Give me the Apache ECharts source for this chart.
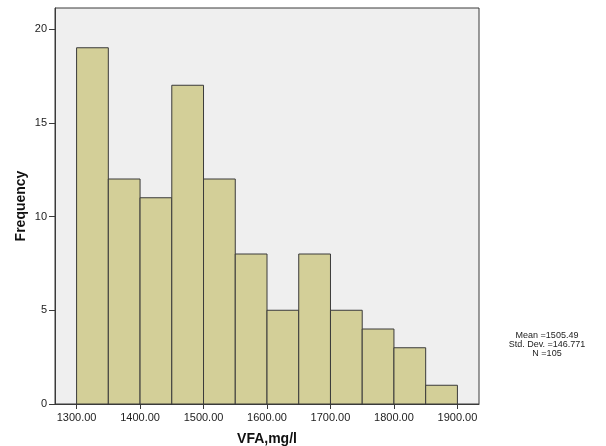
<!DOCTYPE html>
<html><head><meta charset="utf-8">
<script src="https://cdn.jsdelivr.net/npm/echarts@6/dist/echarts.min.js"></script>
<style>html,body{margin:0;padding:0;background:#fff}#c{width:606px;height:446px}</style>
</head><body><div id="c"></div>
<script>
const binStarts = [1300,1350,1400,1450,1500,1550,1600,1650,1700,1750,1800,1850];
const binWidth = 50;
const frequencies = [19,12,11,17,12,8,5,8,5,4,3,1];
const xTicks = [1300,1400,1500,1600,1700,1800,1900];
const yTicks = [0,5,10,15,20];
const statsLines = ['Mean =1505.49','Std. Dev. =146.771','N =105'];

const data = binStarts.map((s,i)=>[s, s+binWidth, frequencies[i]]);
const chart = echarts.init(document.getElementById('c'), null, {renderer:'canvas'});
const font = 'Liberation Sans, Arial, sans-serif';
chart.setOption({
  animation:false,
  backgroundColor:'#ffffff',
  grid:{left:55,top:8,right:127,bottom:42,containLabel:false,outerBoundsMode:'none',show:true,backgroundColor:'#efefef',borderColor:'#3a3a3a',borderWidth:1},
  xAxis:{type:'value',min:1266,max:1934,
    axisLine:{show:true,lineStyle:{color:'#3a3a3a'}},
    axisTick:{show:true,customValues:xTicks,length:5,lineStyle:{color:'#3a3a3a'}},
    axisLabel:{customValues:xTicks,formatter:v=>v.toFixed(2),color:'#222',fontFamily:font,fontSize:11,margin:8},
    splitLine:{show:false},
    name:'VFA,mg/l',nameLocation:'middle',nameGap:28,nameMoveOverlap:false,
    nameTextStyle:{fontFamily:font,fontWeight:'bold',fontSize:14,color:'#111'}},
  yAxis:{type:'value',min:0,max:21.12,
    axisLine:{show:true,lineStyle:{color:'#3a3a3a'}},
    axisTick:{show:true,customValues:yTicks,length:6,lineStyle:{color:'#3a3a3a'}},
    axisLabel:{customValues:yTicks,color:'#222',fontFamily:font,fontSize:11,margin:8},
    splitLine:{show:false},
    name:'Frequency',nameLocation:'middle',nameGap:27,nameRotate:90,nameMoveOverlap:false,
    nameTextStyle:{fontFamily:font,fontWeight:'bold',fontSize:14,color:'#111'}},
  graphic:[{type:'text',x:547,y:331,style:{text:statsLines.join('\n'),align:'center',verticalAlign:'top',fontFamily:font,fontSize:9,lineHeight:9,fill:'#222'}}],
  series:[{type:'custom',data:data,encode:{x:[0,1],y:2},
    renderItem:function(params,api){
      const p0=api.coord([api.value(0),api.value(2)]);
      const p1=api.coord([api.value(1),0]);
      return {type:'rect',shape:{x:p0[0],y:p0[1],width:p1[0]-p0[0],height:p1[1]-p0[1]},
        style:{fill:'#d3cf98',stroke:'#3a3a3a',lineWidth:1}};
    }}]
});
</script></body></html>
